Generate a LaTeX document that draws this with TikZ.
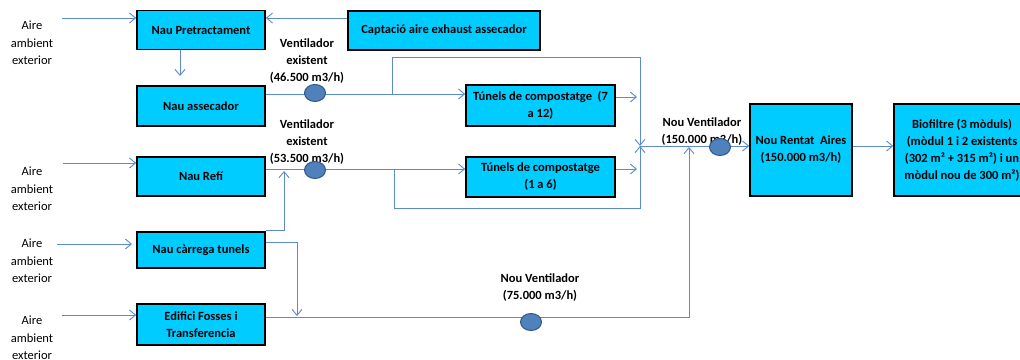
\documentclass[tikz,border=0pt]{standalone}
\usepackage{fontspec}
\setmainfont{Carlito}
\usetikzlibrary{arrows.meta,shapes.geometric}
\definecolor{boxcyan}{RGB}{0,204,255}
\definecolor{linblue}{RGB}{91,139,204}
\definecolor{fanfill}{RGB}{79,129,189}
\definecolor{fanedge}{RGB}{52,88,132}
\tikzset{
  box/.style={draw=black,line width=1.6pt,fill=boxcyan,inner sep=0pt,align=center,font=\fontsize{12.5}{17}\selectfont\bfseries},
  lbl/.style={align=center,inner sep=0pt,font=\fontsize{12.5}{17}\selectfont\bfseries},
  airlbl/.style={align=center,inner sep=0pt,font=\fontsize{12.5}{17.5}\selectfont},
  pipe/.style={draw=linblue,line width=0.9pt},
  arr/.style={pipe,-{Straight Barb[length=6pt,width=10pt]}},
  fan/.style={ellipse,draw=fanedge,line width=1pt,fill=fanfill,minimum width=21pt,minimum height=17pt,inner sep=0pt}
}
\begin{document}
\begin{tikzpicture}[x=1pt,y=-1pt]
\useasboundingbox (0,0) rectangle (1020,359);
\clip (0,0) rectangle (1020,359);
\fill[white] (0,0) rectangle (1020,359);

% boxes
\node[box,minimum width=128pt,minimum height=39pt] (pre) at (201,30) {Nau Pretractament};
\node[box,minimum width=192pt,minimum height=39pt] (capt) at (444,30.5) {Captació aire exhaust assecador};
\node[box,minimum width=128pt,minimum height=40pt] (ass) at (201,106) {Nau assecador};
\node[box,minimum width=128pt,minimum height=39pt] (refi) at (201,176.5) {Nau Refí};
\node[box,minimum width=128pt,minimum height=36pt] (carr) at (201,250) {Nau càrrega tunels};
\node[box,minimum width=128pt,minimum height=41pt] (fos) at (201,324.5) {Edifici Fosses i\\Transferencia};
\node[box,minimum width=149pt,minimum height=41pt] (tb) at (540.5,105.5) {Túnels de compostatge~~(7\\a 12)};
\node[box,minimum width=149pt,minimum height=40pt] (ta) at (540.5,177) {Túnels de compostatge\\(1 a 6)};
\node[box,minimum width=102pt,minimum height=92pt] (rent) at (801,150) {Nou Rentat~~Aires\\(150.000 m3/h)};
\node[box,minimum width=136pt,minimum height=92pt] (bio) at (962,150) {Biofiltre (3 mòduls)\\(mòdul 1 i 2 existents\\(302 m² + 315 m²) i un\\mòdul nou de 300 m²)};

% aire labels
\node[airlbl] (air1) at (32,43) {Aire\\ambient\\exterior};
\node[airlbl] (air2) at (32,189) {Aire\\ambient\\exterior};
\node[airlbl] (air3) at (32,261) {Aire\\ambient\\exterior};
\node[airlbl] (air4) at (32,338) {Aire\\ambient\\exterior};

% fan labels
\node[lbl] (v1) at (307,61) {Ventilador\\existent\\(46.500 m3/h)};
\node[lbl] (v2) at (307,142) {Ventilador\\existent\\(53.500 m3/h)};
\node[lbl] (v3) at (702,131.5) {Nou Ventilador\\(150.000 m3/h)};
\node[lbl] (v4) at (540,287.5) {Nou Ventilador\\(75.000 m3/h)};

% coordinates
\coordinate (i1) at (62,18);
\coordinate (i2) at (63,163);
\coordinate (i3) at (57,244);
\coordinate (i4) at (62,315);
\coordinate (m) at (640,146);

% inlet arrows
\draw[arr] (i1) -- (i1 -| pre.west);
\draw[arr] (i2) -- (i2 -| refi.west);
\draw[arr] (i3) -- (132,244);
\draw[arr] (i4) -- (i4 -| fos.west);
\draw[arr] (capt.west |- i1) -- (pre.east |- i1);
\draw[arr] (pre.south -| 180,0) -- (180,76);

% assecador line
\draw[arr] (ass.east |- 0,94) -- (tb.west |- 0,94);
\draw[arr] (392,94) -- (392,57) -- (640,57) -- (m);
\draw[arr] (tb.east |- 0,97) -- (637,97);

% refi line
\draw[arr] (refi.east |- 0,169) -- (ta.west |- 0,169);
\draw[arr] (394,169) -- (394,208) -- (640,208) -- (m);
\draw[arr] (ta.east |- 0,169) -- (637,169);

% carrega lines
\draw[arr] (carr.east |- 0,230) -- (284,230) -- (284,171);
\draw[arr] (carr.east |- 0,242) -- (297,242) -- (297,316);

% fosses line
\draw[arr] (fos.east |- 0,317) -- (689,317) -- (689,147);

% merge to rentat, rentat to bio
\draw[arr] (m) -- (rent.west |- m);
\draw[arr] (rent.east |- m) -- (bio.west |- m);

% fans
\node[fan] (f1) at (315,93) {};
\node[fan] (f2) at (315,170) {};
\node[fan] (f3) at (720,147) {};
\node[fan] (f4) at (531,322) {};
\end{tikzpicture}
\end{document}
